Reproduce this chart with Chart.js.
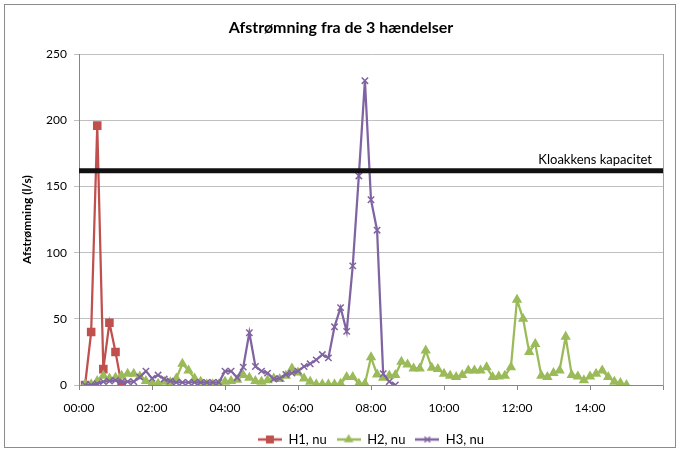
<!DOCTYPE html>
<html>
<head>
<meta charset="utf-8">
<script src="https://cdn.jsdelivr.net/npm/chart.js@4"></script>
<style>
  html, body { margin: 0; padding: 0; background: #fff; }
  #wrap { position: relative; width: 682px; height: 453px; }
  #frame { position: absolute; left: 4px; top: 4px; width: 672px; height: 444px; border: 1px solid #8c8c8c; box-sizing: border-box; pointer-events: none; }
</style>
</head>
<body>
<div id="wrap">
  <canvas id="myChart" width="682" height="453"></canvas>
  <div id="frame"></div>
</div>
<script>
// Tekster
const chartTitle = 'Afstrømning fra de 3 hændelser';
const yTitle = 'Afstrømning (l/s)';
const capacityLabel = 'Kloakkens kapacitet';
const capacity = 162;

// Akse-etiketter (hver 2. time)
const xTickLabels = ['00:00', '02:00', '04:00', '06:00', '08:00', '10:00', '12:00', '14:00'];

// Målinger pr. 10 minutter (første værdi = 00:00)
const h1 = [null, 0, 40, 196, 12, 47, 25, 0];
const h2 = [null, 0.5, 0.5, 3, 7, 5, 5.5, 7, 8.5, 8.5, 6.5,
    3, 1, 1, 2.5, 2, 5, 16, 11, 5, 2.5,
    0.5, 0.5, 0.5, 2.5, 3, 4, 7.5, 5.5, 3, 2.5,
    3.5, 5, 4.5, 7, 12.5, 9.5, 5, 2.5, 0.5, 0.5,
    0.5, 0.5, 1, 6, 6, 1, 1, 21, 8, 5.5,
    7, 7.5, 17.5, 15.5, 12.5, 12.5, 26, 13, 12, 8.5,
    7, 6, 7.5, 11, 11, 11, 13.5, 6, 6.5, 7,
    13.5, 64.5, 50, 25, 31, 7, 6, 9, 11, 36.5,
    7.5, 6.5, 3.5, 6.5, 8.5, 11, 6, 2.5, 1.5, 0];
const h3 = [null, 0, 0, 1, 2.5, 3, 3.5, 2.5, 2.5, 2.5, 6,
    10.5, 5, 7.5, 4.5, 3, 2, 2, 2, 2, 2,
    2, 2, 2, 10.5, 10.5, 5.5, 13.5, 39.5, 14, 10.5,
    9, 4.5, 5, 8, 9, 10.5, 14, 16, 19, 23,
    20.5, 44, 58.5, 40.5, 90, 158, 230, 140, 117, 8.5,
    2.5, 0];

// Kategorier: 00:00 - 16:00 i trin af 10 minutter
const times = [];
for (let i = 0; i <= 96; i++) {
    times.push(String(Math.floor(i / 6)).padStart(2, '0') + ':' + String((i % 6) * 10).padStart(2, '0'));
}

const fontFam = 'Lato, "Open Sans", sans-serif';

// lille billede til forklaringen: linje med markør
function makeSwatch(color, style, radius) {
    const c = document.createElement('canvas');
    c.width = 24;
    c.height = 12;
    const ctx = c.getContext('2d');
    ctx.strokeStyle = color;
    ctx.fillStyle = color;
    ctx.lineWidth = 2.5;
    ctx.beginPath();
    ctx.moveTo(0, 6);
    ctx.lineTo(24, 6);
    ctx.stroke();
    ctx.lineWidth = 1.5;
    Chart.helpers.drawPoint(ctx, {pointStyle: style, radius: radius, borderWidth: 1.5, rotation: 0}, 12, 6);
    return c;
}

const series = [
    {label: 'H1, nu', data: h1, color: '#C0504D', style: 'rect', radius: 5},
    {label: 'H2, nu', data: h2, color: '#9BBB59', style: 'triangle', radius: 4.5},
    {label: 'H3, nu', data: h3, color: '#8064A2', style: 'crossRot', radius: 4.5}
];

const datasets = series.map((s, i) => ({
    label: s.label,
    data: s.data,
    borderColor: s.color,
    backgroundColor: s.color,
    borderWidth: 2.25,
    pointStyle: s.style,
    pointRadius: s.radius,
    pointBorderWidth: 1.5,
    tension: 0,
    order: 3 - i,
    swatch: makeSwatch(s.color, s.style, s.radius - 0.5)
}));

// kapacitetslinjen hen over hele plotområdet
datasets.push({
    label: capacityLabel,
    data: [{x: times[0], y: capacity}, {x: times[times.length - 1], y: capacity}],
    borderColor: '#111',
    borderWidth: 5,
    pointRadius: 0,
    order: 0
});

// tekst over kapacitetslinjen
const extras = {
    id: 'extras',
    afterDatasetsDraw(chart) {
        const ctx = chart.ctx;
        const area = chart.chartArea;
        const y = chart.scales.y.getPixelForValue(capacity);
        ctx.save();
        ctx.font = '13px ' + fontFam;
        ctx.fillStyle = '#000';
        ctx.textAlign = 'right';
        ctx.textBaseline = 'alphabetic';
        ctx.fillText(capacityLabel, area.right - 11, y - 7);
        ctx.restore();
    }
};

const ctx = document.getElementById('myChart').getContext('2d');
const myChart = new Chart(ctx, {
    type: 'line',
    data: {
        labels: times,
        datasets: datasets
    },
    options: {
        responsive: false,
        animation: false,
        devicePixelRatio: 1,
        layout: {padding: {left: 0, right: 0, top: 0, bottom: -3}},
        plugins: {
            title: {
                display: true,
                text: chartTitle,
                color: '#000',
                font: {family: fontFam, size: 16, weight: 'bold'},
                padding: {top: 18, bottom: 17}
            },
            legend: {
                position: 'bottom',
                fullSize: false,
                labels: {
                    color: '#000',
                    font: {family: fontFam, size: 13},
                    usePointStyle: true,
                    pointStyleWidth: 24,
                    padding: 10,
                    generateLabels(chart) {
                        const items = Chart.defaults.plugins.legend.labels.generateLabels(chart);
                        return items
                            .filter(it => it.datasetIndex < 3)
                            .sort((a, b) => a.datasetIndex - b.datasetIndex)
                            .map(it => {
                                it.pointStyle = chart.data.datasets[it.datasetIndex].swatch;
                                return it;
                            });
                    }
                }
            },
            tooltip: {enabled: false}
        },
        scales: {
            x: {
                type: 'category',
                offset: false,
                afterFit(scale) { scale.height = 38; },
                grid: {
                    drawOnChartArea: false,
                    tickLength: 5,
                    color: (c) => (c.index % 12 === 0 ? '#868686' : 'rgba(0,0,0,0)')
                },
                border: {color: '#868686'},
                ticks: {
                    autoSkip: false,
                    maxRotation: 0,
                    padding: 11,
                    color: '#000',
                    font: {family: fontFam, size: 12},
                    callback(value, index) {
                        const lab = times[index];
                        return xTickLabels.includes(lab) ? lab : '';
                    }
                }
            },
            y: {
                min: 0,
                max: 250,
                afterFit(scale) { scale.width = 79; },
                grid: {color: '#c0c0c0', tickLength: 5},
                border: {color: '#868686'},
                ticks: {
                    stepSize: 50,
                    padding: 7,
                    color: '#000',
                    font: {family: fontFam, size: 12}
                },
                title: {
                    display: true,
                    text: yTitle,
                    color: '#000',
                    font: {family: fontFam, size: 12, weight: 'bold'},
                    padding: {top: 20, bottom: 4}
                }
            },
            // højre kant af plotområdet
            yRight: {
                position: 'right',
                min: 0,
                max: 250,
                afterFit(scale) { scale.width = 19; },
                grid: {display: false},
                border: {color: '#a6a6a6'},
                ticks: {display: false}
            }
        }
    },
    plugins: [extras]
});
</script>
</body>
</html>
